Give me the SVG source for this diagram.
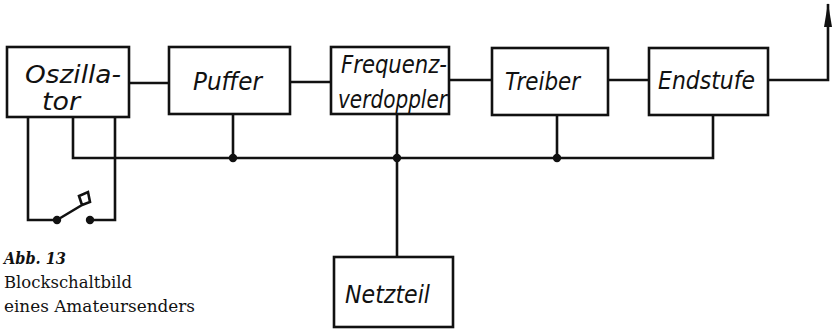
<svg xmlns="http://www.w3.org/2000/svg" width="835" height="331" viewBox="0 0 835 331">
<defs>
<style>
.box{fill:#fff;stroke:#111;stroke-width:2.6}
.ln{fill:none;stroke:#111;stroke-width:2.6;stroke-linejoin:miter}
.dot{fill:#111}
.lbl{font-family:"DejaVu Sans",sans-serif;font-style:italic;font-size:24px;fill:#111}
.cap{font-family:"DejaVu Serif",serif;font-size:16px;fill:#111}
.capb{font-family:"DejaVu Serif",serif;font-size:16px;font-style:italic;font-weight:bold;fill:#111}
</style>
<marker id="arr" viewBox="0 0 24 8" refX="23" refY="4" markerWidth="24" markerHeight="8" markerUnits="userSpaceOnUse" orient="auto">
<path d="M0,0 L24,4 L0,8 Z" fill="#111"/>
</marker>
</defs>
<rect width="835" height="331" fill="#fff"/>
<g id="connectors">
<path class="ln" d="M129,83 H169"/>
<path class="ln" d="M290,82 H331"/>
<path class="ln" d="M449,80 H492"/>
<path class="ln" d="M608,80 H649"/>
<path class="ln" d="M768,80 H828 V4" marker-end="url(#arr)"/>
<path class="ln" d="M73,117 V158 H713 V115"/>
<path class="ln" d="M233,114 V158"/>
<path class="ln" d="M397,114 V257"/>
<path class="ln" d="M557,115 V158"/>
<path class="ln" d="M28,117 V220 H57"/>
<path class="ln" d="M115,117 V220 H90"/>
<path class="ln" d="M57,220 L82,205 L79,196 L88,192 L90,202 L82,205"/>
<circle class="dot" cx="57" cy="220" r="4.2"/>
<circle class="dot" cx="90" cy="220" r="4.2"/>
<circle class="dot" cx="233" cy="158" r="4.2"/>
<circle class="dot" cx="397" cy="158" r="4.2"/>
<circle class="dot" cx="557" cy="158" r="4.2"/>
</g>
<g id="oszillator">
<rect class="box" x="7" y="47" width="122" height="70"/>
<text class="lbl" x="25" y="83" textLength="96" lengthAdjust="spacingAndGlyphs">Oszilla-</text>
<text class="lbl" x="42" y="110" textLength="38" lengthAdjust="spacingAndGlyphs">tor</text>
</g>
<g id="puffer">
<rect class="box" x="169" y="47" width="121" height="67"/>
<text class="lbl" x="193" y="90" textLength="69" lengthAdjust="spacingAndGlyphs">Puffer</text>
</g>
<g id="frequenzverdoppler">
<rect class="box" x="331" y="47" width="118" height="67"/>
<text class="lbl" x="341" y="73" textLength="106" lengthAdjust="spacingAndGlyphs">Frequenz-</text>
<text class="lbl" x="338" y="108" textLength="109" lengthAdjust="spacingAndGlyphs">verdoppler</text>
</g>
<g id="treiber">
<rect class="box" x="492" y="48" width="116" height="67"/>
<text class="lbl" x="505" y="90" textLength="75" lengthAdjust="spacingAndGlyphs">Treiber</text>
</g>
<g id="endstufe">
<rect class="box" x="649" y="48" width="119" height="67"/>
<text class="lbl" x="658" y="89" textLength="97" lengthAdjust="spacingAndGlyphs">Endstufe</text>
</g>
<g id="netzteil">
<rect class="box" x="334" y="257" width="119" height="70"/>
<text class="lbl" x="345" y="303" textLength="85" lengthAdjust="spacingAndGlyphs">Netzteil</text>
</g>
<g id="caption">
<text class="capb" x="4" y="264" textLength="62" lengthAdjust="spacingAndGlyphs">Abb. 13</text>
<text class="cap" x="4" y="288" textLength="128" lengthAdjust="spacingAndGlyphs">Blockschaltbild</text>
<text class="cap" x="4" y="312" textLength="191" lengthAdjust="spacingAndGlyphs">eines  Amateursenders</text>
</g>
</svg>
